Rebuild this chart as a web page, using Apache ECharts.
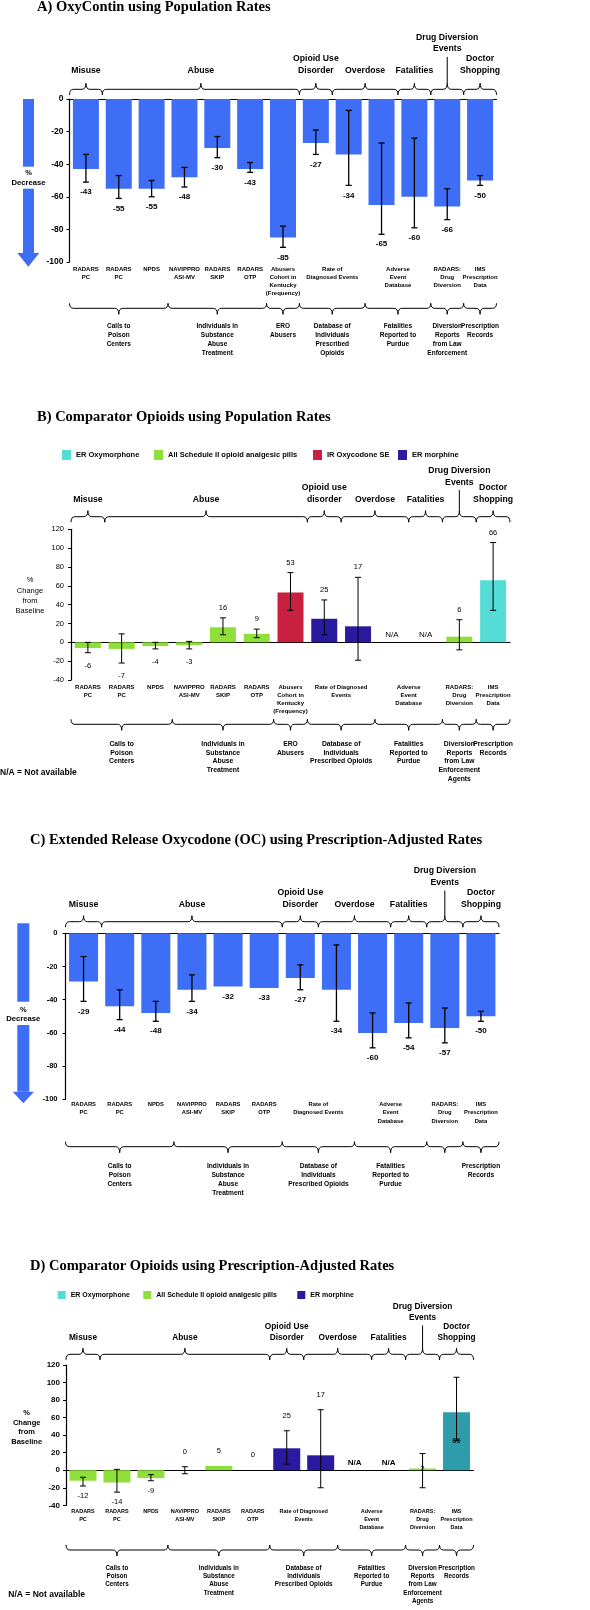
<!DOCTYPE html>
<html><head><meta charset="utf-8">
<script src="https://cdn.jsdelivr.net/npm/echarts@6/dist/echarts.min.js"></script>
<style>html,body{margin:0;padding:0;background:#fff}#c{width:590px;height:1610px}</style>
</head><body><div id="c"></div>
<script>
// ---------------- DATA ----------------
const drugNames = ['ER Oxymorphone', 'All Schedule II opioid analgesic pills', 'IR Oxycodone SE', 'ER morphine'];

// Panel A: OxyContin using population rates (% decrease)
const aCats = ['RADARS PC', 'RADARS PC', 'NPDS', 'NAVIPPRO ASI-MV', 'RADARS SKIP', 'RADARS OTP', 'Abusers Cohort in Kentucky (Frequency)', 'Rate of Diagnosed Events', 'Rate of Diagnosed Events', 'Adverse Event Database', 'Adverse Event Database', 'RADARS: Drug Diversion', 'IMS Prescription Data'];
const aValues  = [-43, -55, -55, -48, -30, -43, -85, -27, -34, -65, -60, -66, -50];
const aErrHigh = [-34, -47, -50, -42, -23, -39, -78, -19, -7, -27, -24, -55, -47];
const aErrLow  = [-51, -61, -60, -54, -36, -45, -91, -34, -53, -83, -79, -74, -53];
const aSources = [[0, 0, 'RADARS\nPC'], [1, 1, 'RADARS\nPC'], [2, 2, 'NPDS'], [3, 3, 'NAVIPPRO\nASI-MV'], [4, 4, 'RADARS\nSKIP'], [5, 5, 'RADARS\nOTP'], [6, 6, 'Abusers\nCohort in\nKentucky\n(Frequency)'], [7, 8, 'Rate of\nDiagnosed Events'], [9, 10, 'Adverse\nEvent\nDatabase'], [11, 11, 'RADARS:\nDrug\nDiversion'], [12, 12, 'IMS\nPrescription\nData']];
const aTopGroups = [[0, 0, 'Misuse'], [1, 6, 'Abuse'], [7, 7, 'Opioid Use\nDisorder'], [8, 9, 'Overdose'], [10, 10, 'Fatalities'], [11, 11, 'Drug Diversion\nEvents'], [12, 12, 'Doctor\nShopping']];
const aBottomGroups = [[0, 2, 'Calls to\nPoison\nCenters'], [3, 5, 'Individuals in\nSubstance\nAbuse\nTreatment'], [6, 6, 'ERO\nAbusers'], [7, 8, 'Database of\nIndividuals\nPrescribed\nOpioids'], [9, 10, 'Fatalities\nReported to\nPurdue'], [11, 11, 'Diversion\nReports\nfrom Law\nEnforcement'], [12, 12, 'Prescription\nRecords']];

// Panel B: comparator opioids using population rates (% change from baseline)
const bCats = aCats;
const bValues  = [-6, -7, -4, -3, 16, 9, 53, 25, 17, null, null, 6, 66];
const bErrHigh = [0, 9, 0, 1, 26, 14, 74, 45, 69, null, null, 24, 106];
const bErrLow  = [-11, -22, -7, -7, 8, 5, 34, 8, -19, null, null, -8, 34];
const bDrug    = [1, 1, 1, 1, 1, 1, 2, 3, 3, null, null, 1, 0];
const bSources = [[0, 0, 'RADARS\nPC'], [1, 1, 'RADARS\nPC'], [2, 2, 'NPDS'], [3, 3, 'NAVIPPRO\nASI-MV'], [4, 4, 'RADARS\nSKIP'], [5, 5, 'RADARS\nOTP'], [6, 6, 'Abusers\nCohort in\nKentucky\n(Frequency)'], [7, 8, 'Rate of Diagnosed\nEvents'], [9, 10, 'Adverse\nEvent\nDatabase'], [11, 11, 'RADARS:\nDrug\nDiversion'], [12, 12, 'IMS\nPrescription\nData']];
const bTopGroups = [[0, 0, 'Misuse'], [1, 6, 'Abuse'], [7, 7, 'Opioid use\ndisorder'], [8, 9, 'Overdose'], [10, 10, 'Fatalities'], [11, 11, 'Drug Diversion\nEvents'], [12, 12, 'Doctor\nShopping']];
const bBottomGroups = [[0, 2, 'Calls to\nPoison\nCenters'], [3, 5, 'Individuals in\nSubstance\nAbuse\nTreatment'], [6, 6, 'ERO\nAbusers'], [7, 8, 'Database of\nIndividuals\nPrescribed Opioids'], [9, 10, 'Fatalities\nReported to\nPurdue'], [11, 11, 'Diversion\nReports\nfrom Law\nEnforcement\nAgents'], [12, 12, 'Prescription\nRecords']];

// Panel C: extended release oxycodone using prescription-adjusted rates
const cCats = ['RADARS PC', 'RADARS PC', 'NPDS', 'NAVIPPRO ASI-MV', 'RADARS SKIP', 'RADARS OTP', 'Rate of Diagnosed Events', 'Rate of Diagnosed Events', 'Adverse Event Database', 'Adverse Event Database', 'RADARS: Drug Diversion', 'IMS Prescription Data'];
const cValues  = [-29, -44, -48, -34, -32, -33, -27, -34, -60, -54, -57, -50];
const cErrHigh = [-14, -34, -41, -25, null, null, -19, -7, -48, -42, -45, -47];
const cErrLow  = [-41, -52, -53, -41, null, null, -34, -53, -69, -63, -66, -53];
const cSources = [[0, 0, 'RADARS\nPC'], [1, 1, 'RADARS\nPC'], [2, 2, 'NPDS'], [3, 3, 'NAVIPPRO\nASI-MV'], [4, 4, 'RADARS\nSKIP'], [5, 5, 'RADARS\nOTP'], [6, 7, 'Rate of\nDiagnosed Events'], [8, 9, 'Adverse\nEvent\nDatabase'], [10, 10, 'RADARS:\nDrug\nDiversion'], [11, 11, 'IMS\nPrescription\nData']];
const cTopGroups = [[0, 0, 'Misuse'], [1, 5, 'Abuse'], [6, 6, 'Opioid Use\nDisorder'], [7, 8, 'Overdose'], [9, 9, 'Fatalities'], [10, 10, 'Drug Diversion\nEvents'], [11, 11, 'Doctor\nShopping']];
const cBottomGroups = [[0, 2, 'Calls to\nPoison\nCenters'], [3, 5, 'Individuals in\nSubstance\nAbuse\nTreatment'], [6, 7, 'Database of\nIndividuals\nPrescribed Opioids'], [8, 9, 'Fatalities\nReported to\nPurdue'], [10, 10, ''], [11, 11, 'Prescription\nRecords']];

// Panel D: comparator opioids using prescription-adjusted rates
const dCats = cCats;
const dValues  = [-12, -14, -9, 0, 5, 0, 25, 17, null, null, 2, 66];
const dErrHigh = [-8, 1, -5, 4, null, null, 45, 69, null, null, 19, 106];
const dErrLow  = [-18, -25, -12, -4, null, null, 7, -20, null, null, -20, 34];
const dDrug    = [1, 1, 1, 1, 1, 1, 3, 3, null, null, 1, 0];
const dSources = [[0, 0, 'RADARS\nPC'], [1, 1, 'RADARS\nPC'], [2, 2, 'NPDS'], [3, 3, 'NAVIPPRO\nASI-MV'], [4, 4, 'RADARS\nSKIP'], [5, 5, 'RADARS\nOTP'], [6, 7, 'Rate of Diagnosed\nEvents'], [8, 9, 'Adverse\nEvent\nDatabase'], [10, 10, 'RADARS:\nDrug\nDiversion'], [11, 11, 'IMS\nPrescription\nData']];
const dTopGroups = cTopGroups;
const dBottomGroups = [[0, 2, 'Calls to\nPoison\nCenters'], [3, 5, 'Individuals in\nSubstance\nAbuse\nTreatment'], [6, 7, 'Database of\nIndividuals\nPrescribed Opioids'], [8, 9, 'Fatalities\nReported to\nPurdue'], [10, 10, 'Diversion\nReports\nfrom Law\nEnforcement\nAgents'], [11, 11, 'Prescription\nRecords']];

// ---------------- STYLE / LAYOUT ----------------
const FF = "'Liberation Sans', Arial, sans-serif";
const SERIF = "'Liberation Serif', 'Times New Roman', serif";
const BLUE = '#3f6ef6';
const colorsB = ['#55dcd4', '#8fdf3a', '#c8203f', '#2a1aa0'];
const colorsD = ['#2f9cab', '#8fdf3a', '#c8203f', '#2a1aa0'];

const panels = [
  { title: 'A) OxyContin using Population Rates', titlePos: [37, 0],
    cats: aCats, values: aValues, hi: aErrHigh, lo: aErrLow, drug: null, sources: aSources, topG: aTopGroups, botG: aBottomGroups,
    grid: { left: 69.5, top: 99, width: 427, height: 163 }, y: [-100, 0], barWidth: 26, errW: 1.3,
    ytick: { size: 8.5, weight: 'bold', margin: 6 }, val: { size: 8, weight: 'bold', negGap: 10, posGap: 10 },
    src: { size: 6, lh: 8, off: 7 }, top: { size: 8.7, lh: 11.7, brace: -9.7, label: -28.3, raised: -50 },
    bot: { size: 6.5, lh: 9, brace: 46.3, label: 64.7 } },
  { title: 'B) Comparator Opioids using Population Rates', titlePos: [37, 409.5],
    cats: bCats, values: bValues, hi: bErrHigh, lo: bErrLow, drug: bDrug, colors: colorsB, sources: bSources, topG: bTopGroups, botG: bBottomGroups,
    grid: { left: 71, top: 529.3, width: 439, height: 150.7 }, y: [-40, 120], barWidth: 26, errW: 1,
    ytick: { size: 7.5, weight: 'normal', margin: 7 }, val: { size: 7.5, weight: 'normal', negGap: 13, posGap: 10 },
    na: { size: 8, weight: 'normal', gap: 3 },
    src: { size: 6, lh: 8, off: 7 }, top: { size: 8.7, lh: 11.6, brace: -12.6, label: -30, raised: -47 },
    bot: { size: 6.8, lh: 8.8, brace: 44.3, label: 64 } },
  { title: 'C) Extended Release Oxycodone (OC) using Prescription-Adjusted Rates', titlePos: [30, 832.5],
    cats: cCats, values: cValues, hi: cErrHigh, lo: cErrLow, drug: null, sources: cSources, topG: cTopGroups, botG: cBottomGroups,
    grid: { left: 65.5, top: 933.3, width: 433.5, height: 166 }, y: [-100, 0], barWidth: 29, errW: 1.3,
    ytick: { size: 7.5, weight: 'bold', margin: 8 }, val: { size: 8, weight: 'bold', negGap: 10, posGap: 10 },
    src: { size: 5.8, lh: 8.3, off: 5 }, top: { size: 8.7, lh: 11.7, brace: -11.6, label: -29, raised: -50.6 },
    bot: { size: 6.6, lh: 9, brace: 47.4, label: 66.4 } },
  { title: 'D) Comparator Opioids using Prescription-Adjusted Rates', titlePos: [30, 1259],
    cats: dCats, values: dValues, hi: dErrHigh, lo: dErrLow, drug: dDrug, colors: colorsD, sources: dSources, topG: dTopGroups, botG: dBottomGroups,
    grid: { left: 66, top: 1365, width: 407.5, height: 140.3 }, y: [-40, 120], barWidth: 27, errW: 1, inside: [10, 11],
    ytick: { size: 8, weight: 'bold', margin: 6 }, val: { size: 7.5, weight: 'normal', negGap: 10, posGap: 15 },
    na: { size: 8, weight: 'bold', gap: 2 },
    src: { size: 5.5, lh: 8, off: 5.7 }, top: { size: 8.3, lh: 11, brace: -10.7, label: -27.7, raised: -47 },
    bot: { size: 6.3, lh: 8.3, brace: 44.7, label: 62.7 } }
];

function txt(x, y, text, o) {
  return { type: 'text', x: x, y: y, silent: true,
    style: { text: text, fill: '#000', fontFamily: FF, fontSize: o.size, fontWeight: o.weight || 'bold',
      align: o.align || 'center', verticalAlign: o.va || 'top', lineHeight: o.lh || Math.round(o.size * 1.2) } };
}
function bracePath(x1, x2, y, dir, hEnd, hTip) {
  const xm = (x1 + x2) / 2, r = Math.min(4, (x2 - x1) / 5);
  const ye = y - dir * hEnd, yt = y + dir * hTip;
  return 'M' + x1 + ',' + ye + ' Q' + x1 + ',' + y + ' ' + (x1 + r) + ',' + y +
    ' L' + (xm - r) + ',' + y + ' Q' + xm + ',' + y + ' ' + xm + ',' + yt +
    ' Q' + xm + ',' + y + ' ' + (xm + r) + ',' + y + ' L' + (x2 - r) + ',' + y +
    ' Q' + x2 + ',' + y + ' ' + x2 + ',' + ye;
}
const lineStyle = (w) => ({ stroke: '#000', lineWidth: w, fill: 'none' });

const option = { animation: false, backgroundColor: '#fff', title: [], legend: [], grid: [], xAxis: [], yAxis: [], series: [], graphic: { elements: [] } };

panels.forEach((P, p) => {
  const n = P.values.length;
  const xc = 2 * p, xv = 2 * p + 1;
  option.title.push({ text: P.title, left: P.titlePos[0], top: P.titlePos[1], padding: 0,
    textStyle: { fontFamily: SERIF, fontWeight: 'bold', fontSize: 14.5, color: '#000' } });
  option.grid.push(Object.assign({ containLabel: false, outerBoundsMode: 'none' }, P.grid));
  option.xAxis.push({ type: 'category', gridIndex: p, data: P.cats,
    axisLine: { show: true, onZero: true, lineStyle: { color: '#000', width: 1.2 } },
    axisTick: { show: false }, axisLabel: { show: false }, splitLine: { show: false } });
  option.xAxis.push({ type: 'value', gridIndex: p, min: -0.5, max: n - 0.5, show: false });
  option.yAxis.push({ type: 'value', gridIndex: p, min: P.y[0], max: P.y[1], interval: 20,
    axisLine: { show: true, onZero: false, lineStyle: { color: '#000', width: 1.2 } },
    axisTick: { show: true, length: 3, lineStyle: { color: '#000' } },
    axisLabel: { color: '#000', fontFamily: FF, fontSize: P.ytick.size, fontWeight: P.ytick.weight, margin: P.ytick.margin },
    splitLine: { show: false } });

  // bars
  if (!P.drug) {
    option.series.push({ type: 'bar', name: 'OxyContin ' + p, xAxisIndex: xc, yAxisIndex: p, data: P.values,
      barWidth: P.barWidth, itemStyle: { color: BLUE }, silent: true });
  } else {
    drugNames.forEach((name, k) => {
      if (!P.drug.includes(k)) return;
      option.series.push({ type: 'bar', name: name, xAxisIndex: xc, yAxisIndex: p, stack: 'st' + p,
        barWidth: P.barWidth, itemStyle: { color: P.colors[k] }, silent: true,
        data: P.values.map((v, i) => (P.drug[i] === k ? v : null)) });
    });
  }

  // error bars
  const errData = [];
  P.values.forEach((v, i) => { if (P.hi[i] != null && P.lo[i] != null) errData.push([i, P.lo[i], P.hi[i]]); });
  option.series.push({ type: 'custom', xAxisIndex: xv, yAxisIndex: p, data: errData, clip: false, z: 5, silent: true,
    renderItem: (params, api) => {
      const i = api.value(0);
      const a = api.coord([i, api.value(2)]), b = api.coord([i, api.value(1)]);
      const c = 3;
      const st = lineStyle(P.errW);
      return { type: 'group', children: [
        { type: 'line', shape: { x1: a[0], y1: a[1], x2: b[0], y2: b[1] }, style: st },
        { type: 'line', shape: { x1: a[0] - c, y1: a[1], x2: a[0] + c, y2: a[1] }, style: st },
        { type: 'line', shape: { x1: b[0] - c, y1: b[1], x2: b[0] + c, y2: b[1] }, style: st }
      ] };
    } });

  // value labels
  option.series.push({ type: 'custom', xAxisIndex: xv, yAxisIndex: p, data: P.values.map((v, i) => [i, 0]), clip: false, z: 6, silent: true,
    renderItem: (params, api) => {
      const i = params.dataIndex, v = P.values[i];
      const x = api.coord([i, 0])[0];
      if (v == null) {
        return txt(x, api.coord([i, 0])[1] - P.na.gap, 'N/A', { size: P.na.size, weight: P.na.weight, va: 'bottom' });
      }
      let y;
      if (P.inside && P.inside.includes(i)) {
        y = api.coord([i, v / 2])[1];
      } else if (v < 0) {
        const lo = P.lo[i] != null ? Math.min(v, P.lo[i]) : v;
        y = api.coord([i, lo])[1] + P.val.negGap;
      } else {
        const hi = P.hi[i] != null ? Math.max(v, P.hi[i]) : v;
        y = api.coord([i, hi])[1] - P.val.posGap;
      }
      return txt(x, y, String(v), { size: P.val.size, weight: P.val.weight, va: 'middle' });
    } });

  // data source labels under the plot
  option.series.push({ type: 'custom', xAxisIndex: xv, yAxisIndex: p, data: P.sources.map(s => [s[0], s[1]]), clip: false, silent: true,
    renderItem: (params, api) => {
      const s = P.sources[params.dataIndex];
      const x = (api.coord([s[0], 0])[0] + api.coord([s[1], 0])[0]) / 2;
      const yb = api.coord([0, P.y[0]])[1];
      return txt(x, yb + P.src.off - P.src.lh / 2, s[2], { size: P.src.size, lh: P.src.lh, va: 'top' });
    } });

  // top braces + outcome labels
  option.series.push({ type: 'custom', xAxisIndex: xv, yAxisIndex: p, data: P.topG.map(g => [g[0], g[1]]), clip: false, silent: true,
    renderItem: (params, api) => {
      const g = P.topG[params.dataIndex];
      const x1 = api.coord([g[0] - 0.5, 0])[0], x2 = api.coord([g[1] + 0.5, 0])[0], xm = (x1 + x2) / 2;
      const yt = api.coord([0, P.y[1]])[1];
      const yl = yt + P.top.brace;
      const children = [{ type: 'path', shape: { pathData: bracePath(x1, x2, yl, -1, 5.5, 6) }, style: lineStyle(1) }];
      const raised = g[2].indexOf('Drug Diversion') === 0;
      const lastCenter = yt + (raised ? P.top.raised : P.top.label);
      children.push(txt(xm, lastCenter + P.top.lh / 2, g[2], { size: P.top.size, lh: P.top.lh, va: 'bottom' }));
      if (raised) {
        children.push({ type: 'line', shape: { x1: xm, y1: lastCenter + P.top.lh / 2 + 2, x2: xm, y2: yl - 6 }, style: lineStyle(1) });
      }
      return { type: 'group', children: children };
    } });

  // bottom braces + data type labels
  option.series.push({ type: 'custom', xAxisIndex: xv, yAxisIndex: p, data: P.botG.map(g => [g[0], g[1]]), clip: false, silent: true,
    renderItem: (params, api) => {
      const g = P.botG[params.dataIndex];
      const x1 = api.coord([g[0] - 0.5, 0])[0], x2 = api.coord([g[1] + 0.5, 0])[0], xm = (x1 + x2) / 2;
      const yb = api.coord([0, P.y[0]])[1];
      const yl = yb + P.bot.brace;
      return { type: 'group', children: [
        { type: 'path', shape: { pathData: bracePath(x1, x2, yl, 1, 5, 6) }, style: lineStyle(1) },
        txt(xm, yb + P.bot.label - P.bot.lh / 2, g[2], { size: P.bot.size, lh: P.bot.lh, va: 'top' })
      ] };
    } });
});

// legends (panel B and D)
const legendB = [[0, 62], [1, 154], [2, 313], [3, 398]];
legendB.forEach(([k, left]) => option.legend.push({ data: [{ name: drugNames[k], itemStyle: { color: colorsB[k] } }],
  left: left, top: 450, itemWidth: 9, itemHeight: 10, icon: 'rect', padding: 0, selectedMode: false,
  textStyle: { fontFamily: FF, fontSize: 7.5, fontWeight: 'bold', color: '#000' } }));
const legendD = [[0, 57.7], [1, 143.3], [3, 297.3]];
legendD.forEach(([k, left]) => option.legend.push({ data: [{ name: drugNames[k], itemStyle: { color: colorsB[k] } }],
  left: left, top: 1291, itemWidth: 8, itemHeight: 8, icon: 'rect', padding: 0, selectedMode: false,
  textStyle: { fontFamily: FF, fontSize: 7, fontWeight: 'bold', color: '#000' } }));

// decorative arrows and axis names
function arrow(x, w, yTop, yMidEnd, yText1, yText2, yLow, yHead, headL, headR, tip) {
  return [
    { type: 'rect', shape: { x: x, y: yTop, width: w, height: yMidEnd - yTop }, style: { fill: BLUE } },
    { type: 'text', x: x + w / 2, y: yText1, style: { text: '%', fill: '#000', fontFamily: FF, fontSize: 7.5, fontWeight: 'bold', align: 'center', verticalAlign: 'middle' } },
    { type: 'text', x: x + w / 2, y: yText2, style: { text: 'Decrease', fill: '#000', fontFamily: FF, fontSize: 7.7, fontWeight: 'bold', align: 'center', verticalAlign: 'middle' } },
    { type: 'rect', shape: { x: x, y: yLow, width: w, height: yHead - yLow }, style: { fill: BLUE } },
    { type: 'polygon', shape: { points: [[headL, yHead], [headR, yHead], [(headL + headR) / 2, tip]] }, style: { fill: BLUE } }
  ];
}
option.graphic.elements.push(...arrow(23, 11, 99, 166.7, 173, 183.3, 188.7, 253, 17.3, 39.3, 266.7));
option.graphic.elements.push(...arrow(17.3, 12, 923.3, 1001.7, 1010, 1019, 1025, 1091.7, 12.7, 34, 1103.3));
option.graphic.elements.push({ type: 'text', x: 30, y: 575.2, style: { text: '%\nChange\nfrom\nBaseline', fill: '#000', fontFamily: FF, fontSize: 7.5, lineHeight: 10.2, align: 'center', verticalAlign: 'top' } });
option.graphic.elements.push({ type: 'text', x: 26.7, y: 1408.5, style: { text: '%\nChange\nfrom\nBaseline', fill: '#000', fontFamily: FF, fontSize: 7.5, fontWeight: 'bold', lineHeight: 9.5, align: 'center', verticalAlign: 'top' } });
option.graphic.elements.push({ type: 'text', x: 0, y: 772.3, style: { text: 'N/A = Not available', fill: '#000', fontFamily: FF, fontSize: 8.5, fontWeight: 'bold', align: 'left', verticalAlign: 'middle' } });
option.graphic.elements.push({ type: 'text', x: 8.3, y: 1595, style: { text: 'N/A = Not available', fill: '#000', fontFamily: FF, fontSize: 8.5, fontWeight: 'bold', align: 'left', verticalAlign: 'middle' } });

const chart = echarts.init(document.getElementById('c'), null, { renderer: 'canvas' });
chart.setOption(option);
</script></body></html>
